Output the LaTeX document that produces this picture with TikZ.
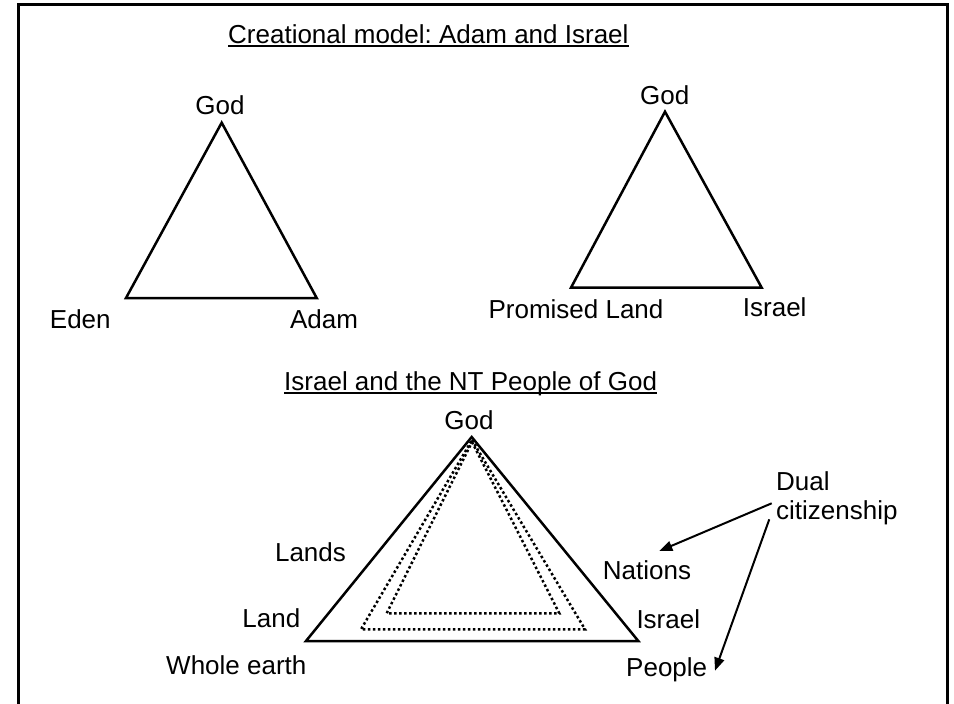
\documentclass[tikz,border=0pt]{standalone}
\usepackage{fontspec}
\setmainfont{Liberation Sans}
\usetikzlibrary{positioning}
\usetikzlibrary{arrows.meta}
\frenchspacing

\begin{document}
\begin{tikzpicture}[x=1pt,y=-1pt,font=\fontsize{26}{29}\selectfont,
   side/.style={line width=2.5pt,line join=miter},
   dots/.style={line width=2.5pt,dash pattern=on 2.5pt off 2.5pt},
   lbl/.style={inner sep=0pt,anchor=base},
   uline/.style={line width=2pt},
   arr/.style={line width=2pt,-{Triangle[length=13pt,width=10pt]}}]
   \useasboundingbox (0,0) rectangle (954,704);
   \draw[line width=3pt] (18,704) -- (18,4) -- (947,4) -- (947,704);
   % titles
   \node[lbl,anchor=base west] (t1) at (228,43) {Creational model: Adam and Israel};
   \node[lbl,anchor=base west] (t2) at (284,390) {Israel and the NT People of God};
   \draw[uline] ([yshift=-3pt]t1.base west) -- ([yshift=-3pt]t1.base east);
   \draw[uline] ([yshift=-3pt]t2.base west) -- ([yshift=-3pt]t2.base east);
   % Adam
   \coordinate (g1) at (221.7,122.7);
   \coordinate (e1) at (126,298);
   \coordinate (a1) at (316.7,298);
   \draw[side] (g1) -- (a1) -- (e1) -- cycle;
   \node[lbl] (god1) at (220,114) {God};
   \node[lbl] (eden) at (80.3,328.3) {Eden};
   \node[lbl] (adam) at (324,328.3) {Adam};
   % Israel
   \coordinate (g2) at (665,111.7);
   \coordinate (p2) at (571,287.7);
   \coordinate (i2) at (761.7,287.7);
   \draw[side] (g2) -- (i2) -- (p2) -- cycle;
   \node[lbl] (god2) at (664.7,104) {God};
   \node[lbl] (pland) at (576,318.3) {Promised Land};
   \node[lbl] (isr1) at (774.7,316.7) {Israel};
   % NT people of God
   \coordinate (g3) at (471.7,437);
   \coordinate (w3) at (306,641);
   \coordinate (p3) at (638.3,641);
   \coordinate (g3a) at (472,440);
   \coordinate (l3a) at (361,629.3);
   \coordinate (r3a) at (585,629.3);
   \coordinate (g3b) at (472,442);
   \coordinate (l3b) at (386.7,613.3);
   \coordinate (r3b) at (559.3,613.3);
   \draw[side] (g3) -- (p3) -- (w3) -- cycle;
   \draw[dots] (g3a) -- (r3a) -- (l3a) -- cycle;
   \draw[dots] (g3b) -- (r3b) -- (l3b) -- cycle;
   \node[lbl] (god3) at (469,429) {God};
   \node[lbl] (lands) at (310.5,561.7) {Lands};
   \node[lbl] (land) at (271.3,627.3) {Land};
   \node[lbl] (earth) at (236.3,674.3) {Whole earth};
   \node[lbl] (nations) at (647,579.3) {Nations};
   \node[lbl] (isr2) at (668.3,628.3) {Israel};
   \node[lbl] (people) at (666.7,676) {People};
   \node[inner sep=0pt,anchor=north west,align=left] (dual) at (776,471) {Dual\\citizenship};
   \coordinate (d1) at (771.7,503.3);
   \coordinate (d2) at (769.3,519.3);
   \coordinate (n1) at (659.3,551);
   \coordinate (pp1) at (715,670.7);
    \path[arr]
    (d1) edge (n1)
    (d2) edge (pp1);
\end{tikzpicture}
\end{document}
